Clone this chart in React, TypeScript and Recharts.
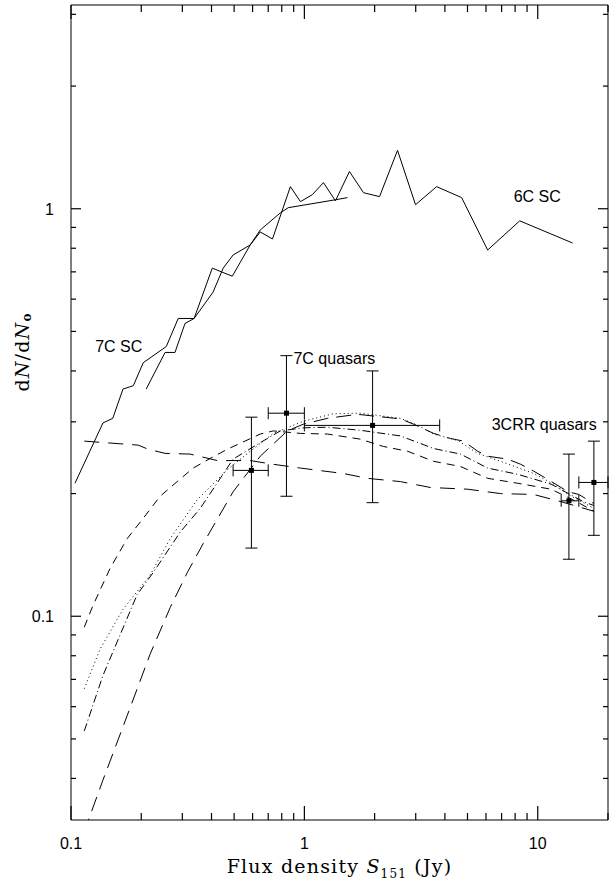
import React from 'react';
import { ComposedChart, Line, Scatter, ErrorBar, XAxis, YAxis, ReferenceDot, ReferenceLine } from 'recharts';

// Source-count ratios dN/dN0 against 151 MHz flux density (Jy)

// radio-galaxy source counts (solid)
const scLongFlux = [0.104, 0.137, 0.151, 0.167, 0.185, 0.204, 0.256, 0.288, 0.337, 0.403, 0.491, 0.586, 0.647, 0.73, 0.871, 0.962, 1.082, 1.207, 1.359, 1.56, 1.792, 2.099, 2.507, 2.994, 3.686, 4.72, 6.1, 8.37, 14.1];
const scLongRatio = [0.212, 0.298, 0.306, 0.361, 0.368, 0.419, 0.459, 0.538, 0.538, 0.715, 0.683, 0.815, 0.877, 0.843, 1.133, 1.041, 1.083, 1.159, 1.046, 1.234, 1.095, 1.071, 1.391, 1.023, 1.133, 1.065, 0.792, 0.934, 0.824];
const scShortFlux = [0.21, 0.253, 0.279, 0.308, 0.337, 0.406, 0.449, 0.495, 0.586, 0.647, 0.789, 0.853, 1.359, 1.53];
const scShortRatio = [0.361, 0.444, 0.444, 0.523, 0.538, 0.624, 0.715, 0.77, 0.815, 0.887, 0.977, 1.006, 1.052, 1.065];

// quasar model curves
const modelAFlux = [0.114, 0.118, 0.137, 0.174, 0.218, 0.266, 0.315, 0.369, 0.495, 0.647, 0.845, 0.99, 1.255, 1.688, 2.58, 2.94, 3.58, 4.23, 4.81, 5.53, 6.1, 7.43, 8.45, 9.61, 11.0, 13.5, 15.0, 17.4];
const modelARatio = [0.0294, 0.0313, 0.0396, 0.057, 0.0806, 0.105, 0.128, 0.151, 0.202, 0.247, 0.285, 0.296, 0.306, 0.313, 0.305, 0.296, 0.281, 0.273, 0.269, 0.254, 0.247, 0.243, 0.236, 0.227, 0.217, 0.202, 0.199, 0.189];

const modelBFlux = [0.114, 0.124, 0.147, 0.174, 0.204, 0.241, 0.285, 0.334, 0.395, 0.468, 0.647, 0.736, 0.962, 1.255, 1.738, 2.18, 2.77, 3.58, 4.67, 6.1, 8.21, 11.4, 14.7, 17.4];
const modelBRatio = [0.094, 0.106, 0.131, 0.155, 0.174, 0.197, 0.214, 0.231, 0.244, 0.257, 0.28, 0.285, 0.281, 0.28, 0.272, 0.261, 0.254, 0.24, 0.233, 0.218, 0.212, 0.205, 0.191, 0.181];

const modelCFlux = [0.114, 0.133, 0.167, 0.218, 0.266, 0.347, 0.468, 0.586, 0.736, 0.99, 1.332, 1.738, 2.58, 2.99, 3.58, 4.54, 5.53, 6.93, 9.61, 11.7, 13.5, 17.4];
const modelCRatio = [0.0664, 0.0829, 0.104, 0.126, 0.155, 0.193, 0.229, 0.254, 0.281, 0.301, 0.314, 0.315, 0.306, 0.296, 0.28, 0.27, 0.251, 0.24, 0.224, 0.211, 0.199, 0.184];

const modelDFlux = [0.114, 0.137, 0.192, 0.225, 0.294, 0.358, 0.495, 0.628, 0.789, 0.99, 1.255, 1.738, 2.58, 3.58, 4.67, 6.1, 8.21, 11.4, 15.7, 17.4];
const modelDRatio = [0.0523, 0.0715, 0.113, 0.128, 0.161, 0.184, 0.243, 0.264, 0.285, 0.29, 0.291, 0.286, 0.277, 0.258, 0.25, 0.231, 0.223, 0.211, 0.191, 0.187];

const modelEFlux = [0.114, 0.194, 0.214, 0.253, 0.324, 0.424, 0.586, 0.736, 0.962, 1.47, 1.86, 2.58, 3.47, 5.01, 6.93, 9.61, 12.6, 17.4];
const modelERatio = [0.269, 0.263, 0.257, 0.251, 0.25, 0.241, 0.241, 0.236, 0.231, 0.224, 0.218, 0.214, 0.207, 0.205, 0.2, 0.199, 0.191, 0.181];

// quasar counts with error bars
const qsoFlux = [0.593, 0.838, 1.96, 13.6, 17.4];
const qsoFluxLow = [0.495, 0.7, 1.0, 12.6, 15.0];
const qsoFluxHigh = [0.7, 1.0, 3.8, 15.0, 20.0];
const qsoRatio = [0.228, 0.315, 0.294, 0.192, 0.213];
const qsoRatioLow = [0.147, 0.197, 0.19, 0.138, 0.158];
const qsoRatioHigh = [0.308, 0.436, 0.4, 0.25, 0.269];

const xTicks = [0.1, 0.2, 0.3, 0.4, 0.5, 0.6, 0.7, 0.8, 0.9, 1, 2, 3, 4, 5, 6, 7, 8, 9, 10, 20];
const xMajor = [0.1, 1, 10];
const yTicks = [0.04, 0.05, 0.06, 0.07, 0.08, 0.09, 0.1, 0.2, 0.3, 0.4, 0.5, 0.6, 0.7, 0.8, 0.9, 1, 2, 3];
const yMajor = [0.1, 1];

const notes = [
  { text: '7C SC', x: 0.127, y: 0.459 },
  { text: '6C SC', x: 7.89, y: 1.07 },
  { text: '7C quasars', x: 0.898, y: 0.428 },
  { text: '3CRR quasars', x: 6.35, y: 0.296 },
];

const zip = (xs: number[], ys: number[]) => xs.map((x, i) => ({ x, y: ys[i] }));

const qsoData = qsoFlux.map((x, i) => ({
  x,
  y: qsoRatio[i],
  ex: [x - qsoFluxLow[i], qsoFluxHigh[i] - x],
  ey: [qsoRatio[i] - qsoRatioLow[i], qsoRatioHigh[i] - qsoRatio[i]],
}));

const sans = '"Liberation Sans", Arial, sans-serif';
const serif = '"DejaVu Serif", serif';
const X_DOMAIN = [0.1, 20];
const Y_DOMAIN = [0.0316228, 3.16228];
const INK = '#000';

// tick marks point into the frame from both opposite edges
const vTicks = (len: number) => (p: any) => {
  const top = Math.min(p.y1, p.y2);
  const bottom = Math.max(p.y1, p.y2);
  return (
    <g>
      <line x1={p.x1} x2={p.x1} y1={bottom} y2={bottom - len} stroke={INK} strokeWidth={1.2} />
      <line x1={p.x1} x2={p.x1} y1={top} y2={top + len} stroke={INK} strokeWidth={1.2} />
    </g>
  );
};

const hTicks = (len: number) => (p: any) => {
  const left = Math.min(p.x1, p.x2);
  const right = Math.max(p.x1, p.x2);
  return (
    <g>
      <line x1={left} x2={left + len} y1={p.y1} y2={p.y1} stroke={INK} strokeWidth={1.2} />
      <line x1={right} x2={right - len} y1={p.y1} y2={p.y1} stroke={INK} strokeWidth={1.2} />
    </g>
  );
};

const XLabel = ({ x, y, payload }: any) =>
  xMajor.includes(payload.value) ? (
    <text x={x} y={y + 29} textAnchor="middle" fontFamily={sans} fontSize={16} fill={INK}>
      {String(payload.value)}
    </text>
  ) : null;

const YLabel = ({ x, y, payload }: any) =>
  yMajor.includes(payload.value) ? (
    <text x={x - 17} y={y + 6} textAnchor="end" fontFamily={sans} fontSize={16} fill={INK}>
      {String(payload.value)}
    </text>
  ) : null;

const XTitle = ({ viewBox }: any) => (
  <text x={viewBox.x + viewBox.width / 2} y={873} textAnchor="middle" fontFamily={serif} fontSize={19} letterSpacing={1.2} fill={INK}>
    {'Flux density '}
    <tspan fontStyle="italic">S</tspan>
    <tspan fontSize={12} dy={5}>151</tspan>
    <tspan dy={-5}>{' (Jy)'}</tspan>
  </text>
);

const YTitle = () => (
  <text x={22} y={352} transform="rotate(-90, 22, 352)" textAnchor="middle" dominantBaseline="central" fontFamily={serif} fontSize={19} letterSpacing={1.2} fill={INK}>
    d<tspan fontStyle="italic">N</tspan>/d<tspan fontStyle="italic">N</tspan>
    <tspan fontSize={12} fontWeight="bold" dy={5}>o</tspan>
  </text>
);

const Note = (text: string) => ({ viewBox }: any) => (
  <text x={viewBox.x} y={viewBox.y} dominantBaseline="central" fontFamily={sans} fontSize={16} fill={INK}>
    {text}
  </text>
);

const Square = ({ cx, cy }: any) => <rect x={cx - 2.5} y={cy - 2.5} width={5} height={5} fill={INK} />;

const lineProps = {
  dataKey: 'y',
  stroke: INK,
  strokeWidth: 1,
  dot: false,
  activeDot: false,
  isAnimationActive: false,
  type: 'linear' as const,
};

export default function App() {
  return (
    <div style={{ position: 'absolute', left: 0, top: 0, background: '#fff' }}>
      <ComposedChart width={613} height={887} margin={{ top: 5, right: 5, bottom: 0, left: 0 }}>
        <XAxis
          dataKey="x"
          type="number"
          scale="log"
          domain={X_DOMAIN}
          allowDataOverflow
          ticks={xTicks}
          interval={0}
          tickLine={false}
          tickSize={0}
          tickMargin={0}
          tick={<XLabel />}
          height={67}
          axisLine={{ stroke: INK }}
          label={<XTitle />}
        />
        <YAxis
          dataKey="y"
          type="number"
          scale="log"
          domain={Y_DOMAIN}
          allowDataOverflow
          ticks={yTicks}
          interval={0}
          tickLine={false}
          tickSize={0}
          tickMargin={0}
          tick={<YLabel />}
          width={71}
          axisLine={{ stroke: INK }}
          label={<YTitle />}
        />

        {/* top and right edges of the frame */}
        <ReferenceLine y={Y_DOMAIN[1]} stroke={INK} ifOverflow="visible" />
        <ReferenceLine x={X_DOMAIN[1]} stroke={INK} ifOverflow="visible" />

        {xTicks.map((t) => (
          <ReferenceLine key={`xt${t}`} x={t} ifOverflow="visible" shape={vTicks(xMajor.includes(t) ? 14 : 7)} />
        ))}
        {yTicks.map((t) => (
          <ReferenceLine key={`yt${t}`} y={t} ifOverflow="visible" shape={hTicks(yMajor.includes(t) ? 10 : 5)} />
        ))}

        <Line data={zip(scLongFlux, scLongRatio)} {...lineProps} />
        <Line data={zip(scShortFlux, scShortRatio)} {...lineProps} />

        <Line data={zip(modelAFlux, modelARatio)} {...lineProps} strokeDasharray="15 8" />
        <Line data={zip(modelBFlux, modelBRatio)} {...lineProps} strokeDasharray="8 6" />
        <Line data={zip(modelCFlux, modelCRatio)} {...lineProps} strokeDasharray="1 3" />
        <Line data={zip(modelDFlux, modelDRatio)} {...lineProps} strokeDasharray="8 3 1 3" />
        <Line data={zip(modelEFlux, modelERatio)} {...lineProps} strokeDasharray="15 9" />

        <Scatter data={qsoData} dataKey="y" shape={<Square />} isAnimationActive={false}>
          <ErrorBar dataKey="ey" direction="y" width={6} stroke={INK} strokeWidth={1} />
          <ErrorBar dataKey="ex" direction="x" width={6} stroke={INK} strokeWidth={1} />
        </Scatter>

        {notes.map((n) => (
          <ReferenceDot
            key={n.text}
            x={n.x}
            y={n.y}
            r={0}
            fill="none"
            stroke="none"
            ifOverflow="visible"
            label={Note(n.text)}
          />
        ))}
      </ComposedChart>
    </div>
  );
}
